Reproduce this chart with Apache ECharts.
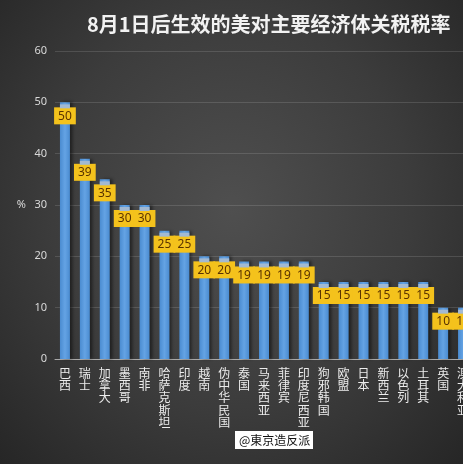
<!DOCTYPE html>
<html>
<head>
<meta charset="utf-8">
<script src="https://cdn.jsdelivr.net/npm/echarts@6/dist/echarts.min.js"></script>
<style>
  html, body { margin: 0; padding: 0; overflow: hidden; width: 463px; height: 464px;
    background: radial-gradient(ellipse at 50% 45%, #4f4f4f 0%, #3c3c3c 55%, #262626 100%); }
  /* a bit wider than the window so the last bar gets cut off like the source */
  #chart { width: 473px; height: 464px; }
</style>
</head>
<body>
<div id="chart"></div>
<script>
// 8月1日后生效的美对主要经济体关税税率
const countries = ['巴西', '瑞士', '加拿大', '墨西哥', '南非', '哈萨克斯坦', '印度', '越南', '伪中华民国',
  '泰国', '马来西亚', '菲律宾', '印度尼西亚', '狗邪韩国', '欧盟', '日本', '新西兰', '以色列', '土耳其',
  '英国', '澳大利亚']
const rates = [50, 39, 35, 30, 30, 25, 25, 20, 20, 19, 19, 19, 19, 15, 15, 15, 15, 15, 15, 10, 10]
const yTicks = [0, 10, 20, 30, 40, 50, 60]

const chart = echarts.init(document.getElementById('chart'))

chart.setOption({
  backgroundColor: 'transparent',
  animation: false,
  title: {
    text: '8月1日后生效的美对主要经济体关税税率',
    left: 82,
    top: 9,
    textStyle: {
      color: '#f2f2f2',
      fontSize: 20,
      fontWeight: 'bold',
      fontFamily: 'Noto Sans CJK SC'
    }
  },
  grid: {
    left: 55,
    right: 0,
    top: 51,
    bottom: 105
  },
  xAxis: {
    type: 'category',
    data: countries,
    axisTick: { show: false },
    axisLine: { lineStyle: { color: '#a8a8a8', width: 1 } },
    axisLabel: {
      interval: 0,
      margin: 8,
      color: '#ececec',
      fontSize: 12,
      lineHeight: 12.3,
      fontFamily: 'Noto Sans CJK SC',
      verticalAlign: 'top',
      formatter: v => v.split('').join('\n')
    }
  },
  yAxis: {
    type: 'value',
    min: yTicks[0],
    max: yTicks[yTicks.length - 1],
    interval: 10,
    name: '%',
    nameLocation: 'middle',
    nameGap: 29,
    nameRotate: 0,
    nameTextStyle: { color: '#d9d9d9', fontSize: 11, fontFamily: 'Noto Sans' },
    axisLine: { show: false },
    axisTick: { show: false },
    axisLabel: { color: '#d9d9d9', fontSize: 11, margin: 8, fontFamily: 'Noto Sans' },
    splitLine: { lineStyle: { color: 'rgba(255,255,255,0.13)' } }
  },
  series: [
    {
      type: 'bar',
      data: rates,
      barWidth: 10,
      itemStyle: {
        color: new echarts.graphic.LinearGradient(0, 0, 1, 0, [
          { offset: 0, color: '#4a8bd0' },
          { offset: 0.5, color: '#64a3e4' },
          { offset: 1, color: '#4a8bd0' }
        ]),
        shadowColor: 'rgba(0,0,0,0.45)',
        shadowBlur: 3,
        shadowOffsetX: 3
      },
      label: {
        show: true,
        position: 'insideTop',
        distance: 5,
        color: '#5a3300',
        fontSize: 12,
        fontFamily: 'Noto Sans',
        backgroundColor: '#f4c21c',
        padding: [3, 4, 2, 4]
      },
      z: 2
    },
    {
      // lighter cap at the top of each bar
      type: 'pictorialBar',
      data: rates,
      symbol: 'rect',
      symbolPosition: 'end',
      symbolSize: [10, 4],
      symbolOffset: [0, 2],
      itemStyle: { color: '#a2b9d2' },
      silent: true,
      z: 3
    }
  ],
  graphic: [
    {
      type: 'group',
      left: 235,
      top: 431,
      children: [
        { type: 'rect', shape: { x: 0, y: 0, width: 78, height: 18 }, style: { fill: '#ffffff' } },
        {
          type: 'text', x: 4, y: 9,
          style: { text: '@東京造反派', fill: '#111', fontSize: 12, fontFamily: 'Noto Sans CJK SC', verticalAlign: 'middle' }
        }
      ]
    }
  ]
})
</script>
</body>
</html>
